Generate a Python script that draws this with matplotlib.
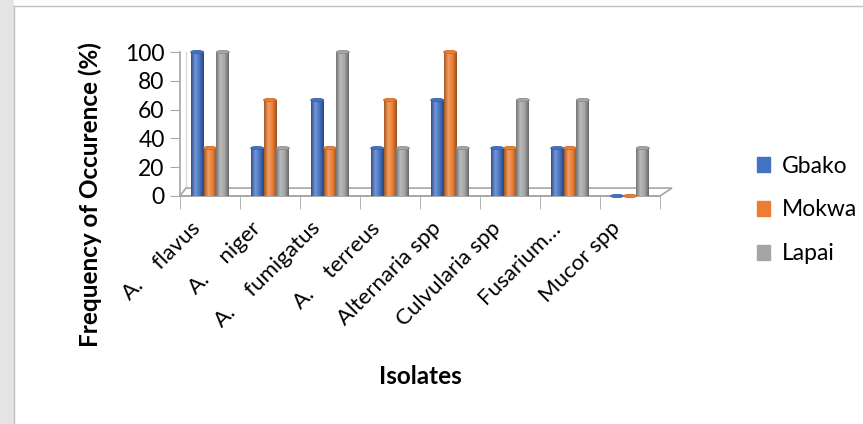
import numpy as np
import matplotlib
matplotlib.use("Agg")
import matplotlib.pyplot as plt
from matplotlib.patches import Ellipse, Polygon, Rectangle
from matplotlib.colors import LinearSegmentedColormap, to_rgb
from matplotlib.transforms import ScaledTranslation

plt.rcParams['font.family'] = ['Lato', 'DejaVu Sans']

# data (one, two or three of three sites -> 33.3 / 66.7 / 100 %)
isolates = ["A.    flavus", "A.    niger", "A.    fumigatus", "A.    terreus",
            "Alternaria spp", "Culvularia spp", "Fusarium\u2026", "Mucor spp"]
gbako = [100, 33.3, 66.7, 33.3, 66.7, 33.3, 33.3, 0]
mokwa = [33.3, 66.7, 33.3, 66.7, 100, 33.3, 33.3, 0]
lapai = [100, 33.3, 100, 33.3, 33.3, 66.7, 66.7, 33.3]

series = [("Gbako", gbako, "#4472C4"),
          ("Mokwa", mokwa, "#ED7D31"),
          ("Lapai", lapai, "#A5A5A5")]

fig = plt.figure(figsize=(8.63, 4.24), dpi=100)
ax = fig.add_axes([180/863, 1-196/424, 480/863, 144/424])

# frame around the chart + grey strip on the far left
fig.patches.append(Rectangle((0, 0), 14/863, 1, transform=fig.transFigure,
                             facecolor="#E4E4E4", edgecolor="none", zorder=-5))
fig.add_artist(plt.Line2D([14/863, 14/863], [0, 1-6/424], color="#BFBFBF", lw=1))
fig.add_artist(plt.Line2D([14/863, 1], [1-6/424, 1-6/424], color="#BFBFBF", lw=1))

x = np.arange(len(isolates))
w = 0.215

# 3D-ish floor
dx, dy = 0.2, 5.5
floor = Polygon([(-0.5, 0), (len(isolates) - 0.5, 0),
                 (len(isolates) - 0.5 + dx, dy), (-0.5 + dx * 0.5, dy)],
                closed=True, facecolor="white", edgecolor="#A6A6A6", lw=1.2,
                clip_on=False, zorder=1)
ax.add_patch(floor)
ax.plot([-0.5 + dx * 0.5, -0.5 + dx * 0.5], [dy, 100], color="#D9D9D9", lw=1, zorder=0.5)

def shade_cmap(c):
    r = np.array(to_rgb(c))
    dark = r * 0.7
    light = np.clip(r + (1 - r) * 0.25, 0, 1)
    return LinearSegmentedColormap.from_list("s", [dark, light, r, dark * 0.9])

grad = np.linspace(0, 1, 64).reshape(1, -1)
for i, (name, vals, col) in enumerate(series):
    pos = x + (i - 1) * w
    bars = ax.bar(pos, vals, w, color=col, label=name, zorder=3)
    cm = shade_cmap(col)
    for b, v, p in zip(bars, vals, pos):
        if v > 0:
            im = ax.imshow(grad, extent=[p - w/2, p + w/2, 0, v], aspect="auto",
                           cmap=cm, zorder=3.1)
            im.set_clip_path(b)
        ax.add_patch(Ellipse((p, v), w, 2.2, facecolor=to_rgb(col), zorder=3.2,
                             edgecolor=np.array(to_rgb(col)) * 0.85, lw=0.6, clip_on=False))

ax.set_xlim(-0.5, len(isolates) - 0.5)
ax.set_ylim(0, 100)

for s in ["top", "right"]:
    ax.spines[s].set_visible(False)
for s in ["left", "bottom"]:
    ax.spines[s].set_color("#A6A6A6")
    ax.spines[s].set_linewidth(1.2)

ax.set_yticks([0, 20, 40, 60, 80, 100])
ax.tick_params(axis="y", direction="out", length=7, color="#A6A6A6", labelsize=16.5, pad=4)
ax.set_xticks(x)
ax.set_xticklabels(isolates, rotation=45, ha="right", va="center",
                   rotation_mode="anchor", fontsize=16)
ax.tick_params(axis="x", length=0, pad=21)
shift = ScaledTranslation(-9/72, 0, fig.dpi_scale_trans)
for lbl in ax.get_xticklabels():
    lbl.set_transform(lbl.get_transform() + shift)
ax.set_xticks(np.arange(len(isolates) + 1) - 0.5, minor=True)
ax.tick_params(axis="x", which="minor", direction="out", length=9, color="#A6A6A6")

fig.text(90/863, 1-195/424, "Frequency of Occurence (%)", rotation=90, ha="center",
         va="center", fontsize=17.5, fontweight="bold")
fig.text(420/863, 1-377/424, "Isolates", ha="center", va="center",
         fontsize=17.5, fontweight="bold")

handles = [Rectangle((0, 0), 1, 1, color=c) for _, _, c in series]
fig.legend(handles, [n for n, _, _ in series], loc="center left",
           bbox_to_anchor=(736/863, 1-210/424), frameon=False, fontsize=16.5,
           handlelength=0.6, handleheight=0.6, labelspacing=1.0, handletextpad=0.5)

fig.savefig("out.png", dpi=100)
